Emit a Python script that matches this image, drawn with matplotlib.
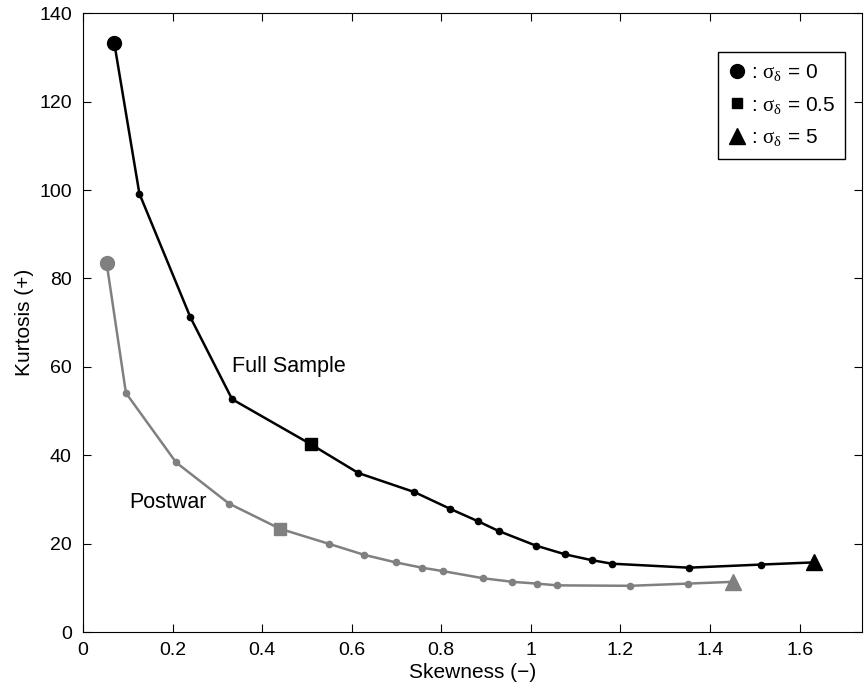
import matplotlib.pyplot as plt
from matplotlib.lines import Line2D

plt.rcParams['font.family'] = 'Liberation Sans'
plt.rcParams['mathtext.fontset'] = 'custom'
plt.rcParams['mathtext.rm'] = 'Liberation Serif'
plt.rcParams['mathtext.it'] = 'Liberation Serif'

# full sample: skewness (-) vs kurtosis (+)
full_skew = [0.070, 0.126, 0.240, 0.333, 0.509, 0.615, 0.740, 0.820, 0.882, 0.928,
             1.011, 1.077, 1.136, 1.181, 1.353, 1.513, 1.633]
full_kurt = [133.2, 99.2, 71.2, 52.7, 42.5, 36.0, 31.7, 27.9, 25.1, 22.9,
             19.6, 17.6, 16.3, 15.5, 14.6, 15.3, 15.8]

# postwar sample
post_skew = [0.053, 0.096, 0.208, 0.326, 0.440, 0.549, 0.628, 0.698, 0.757, 0.805,
             0.894, 0.959, 1.013, 1.059, 1.222, 1.351, 1.452]
post_kurt = [83.4, 54.1, 38.4, 29.1, 23.4, 20.0, 17.5, 15.8, 14.6, 13.8,
             12.2, 11.4, 11.0, 10.6, 10.5, 11.0, 11.4]

# index of sigma_delta = 0, 0.5, 5 points in each curve
full_special = [0, 4, 16]
post_special = [0, 4, 16]
sigma_labels = ['0', '0.5', '5']
special_markers = ['o', 's', '^']
special_sizes = [10, 8.5, 11]

gray = '#808080'

fig = plt.figure(figsize=(8.64, 6.94), dpi=100)
ax = fig.add_axes([0.096, 0.089, 0.902, 0.892])

ax.plot(full_skew, full_kurt, '-o', color='black', lw=1.8, ms=4.5)
ax.plot(post_skew, post_kurt, '-o', color=gray, lw=1.8, ms=4.5)
for i in range(3):
    j = full_special[i]
    ax.plot(full_skew[j], full_kurt[j], special_markers[i], color='black', ms=special_sizes[i])
    j = post_special[i]
    ax.plot(post_skew[j], post_kurt[j], special_markers[i], color=gray, ms=special_sizes[i])

ax.text(0.333, 60, 'Full Sample', fontsize=15.5, va='center')
ax.text(0.104, 29.3, 'Postwar', fontsize=15.5, va='center')

handles = []
for i in range(3):
    handles.append(Line2D([], [], ls='none', marker=special_markers[i], color='black',
                          ms=[10, 7, 11][i]))
labels = [': $\\sigma_\\delta$ = ' + s for s in sigma_labels]
leg = ax.legend(handles, labels, loc='upper right', bbox_to_anchor=(0.978, 0.9375),
                fontsize=15, handlelength=0.8, handletextpad=0.25, borderpad=0.5,
                labelspacing=0.55, borderaxespad=0, fancybox=False,
                edgecolor='black', framealpha=1)
leg.get_frame().set_linewidth(1.0)

ax.set_xlim(0, 1.74)
ax.set_ylim(0, 140)
ax.set_xticks([0, 0.2, 0.4, 0.6, 0.8, 1, 1.2, 1.4, 1.6])
ax.set_xticklabels(['0', '0.2', '0.4', '0.6', '0.8', '1', '1.2', '1.4', '1.6'])
ax.set_yticks(range(0, 141, 20))
ax.tick_params(direction='in', top=True, right=True, length=6, labelsize=14)
ax.tick_params(axis='y', pad=8)
ax.tick_params(axis='x', pad=7)
ax.set_xlabel('Skewness (\u2212)', fontsize=15, labelpad=3)
ax.set_ylabel('Kurtosis (+)', fontsize=15, labelpad=4)

fig.savefig('out.png', dpi=100)
